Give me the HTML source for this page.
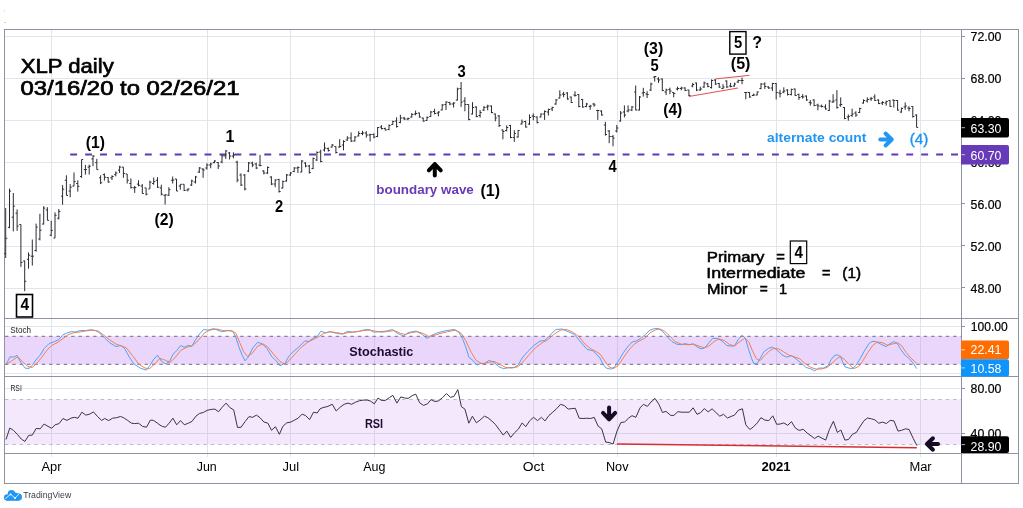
<!DOCTYPE html>
<html><head><meta charset="utf-8"><title>XLP daily</title>
<style>html,body{margin:0;padding:0;background:#fff}svg{display:block;will-change:transform}text{font-family:"Liberation Sans", sans-serif}</style></head><body>
<svg width="1023" height="508" viewBox="0 0 1023 508">
<rect width="1023" height="508" fill="#fff"/>
<rect x="5" y="336.2" width="956" height="28.2" fill="#ead5fb"/>
<rect x="5" y="399.5" width="956" height="45" fill="#f4e8fd"/>
<line x1="5" x2="961.5" y1="36.5" y2="36.5" stroke="#e3e5ec"/>
<line x1="5" x2="961.5" y1="78.5" y2="78.5" stroke="#e3e5ec"/>
<line x1="5" x2="961.5" y1="120.5" y2="120.5" stroke="#e3e5ec"/>
<line x1="5" x2="961.5" y1="162.5" y2="162.5" stroke="#e3e5ec"/>
<line x1="5" x2="961.5" y1="204.5" y2="204.5" stroke="#e3e5ec"/>
<line x1="5" x2="961.5" y1="246.5" y2="246.5" stroke="#e3e5ec"/>
<line x1="5" x2="961.5" y1="288.5" y2="288.5" stroke="#e3e5ec"/>
<line x1="5" x2="961.5" y1="326.5" y2="326.5" stroke="#e3e5ec"/>
<line x1="5" x2="961.5" y1="373.5" y2="373.5" stroke="#e3e5ec"/>
<line x1="5" x2="961.5" y1="388.5" y2="388.5" stroke="#e3e5ec"/>
<line x1="5" x2="961.5" y1="433.5" y2="433.5" stroke="#d9cfe6"/>
<line x1="51.5" x2="51.5" y1="30" y2="457" stroke="#e2e4ec"/>
<line x1="207.5" x2="207.5" y1="30" y2="457" stroke="#e2e4ec"/>
<line x1="290.5" x2="290.5" y1="30" y2="457" stroke="#e2e4ec"/>
<line x1="374.5" x2="374.5" y1="30" y2="457" stroke="#e2e4ec"/>
<line x1="533.5" x2="533.5" y1="30" y2="457" stroke="#e2e4ec"/>
<line x1="617.5" x2="617.5" y1="30" y2="457" stroke="#e2e4ec"/>
<line x1="776.5" x2="776.5" y1="30" y2="457" stroke="#e2e4ec"/>
<line x1="920.5" x2="920.5" y1="30" y2="457" stroke="#e2e4ec"/>
<line x1="51.5" x2="51.5" y1="336.2" y2="364.4" stroke="#d6c4ea"/>
<line x1="51.5" x2="51.5" y1="399.5" y2="444.5" stroke="#ddd1ec"/>
<line x1="207.5" x2="207.5" y1="336.2" y2="364.4" stroke="#d6c4ea"/>
<line x1="207.5" x2="207.5" y1="399.5" y2="444.5" stroke="#ddd1ec"/>
<line x1="290.5" x2="290.5" y1="336.2" y2="364.4" stroke="#d6c4ea"/>
<line x1="290.5" x2="290.5" y1="399.5" y2="444.5" stroke="#ddd1ec"/>
<line x1="374.5" x2="374.5" y1="336.2" y2="364.4" stroke="#d6c4ea"/>
<line x1="374.5" x2="374.5" y1="399.5" y2="444.5" stroke="#ddd1ec"/>
<line x1="533.5" x2="533.5" y1="336.2" y2="364.4" stroke="#d6c4ea"/>
<line x1="533.5" x2="533.5" y1="399.5" y2="444.5" stroke="#ddd1ec"/>
<line x1="617.5" x2="617.5" y1="336.2" y2="364.4" stroke="#d6c4ea"/>
<line x1="617.5" x2="617.5" y1="399.5" y2="444.5" stroke="#ddd1ec"/>
<line x1="776.5" x2="776.5" y1="336.2" y2="364.4" stroke="#d6c4ea"/>
<line x1="776.5" x2="776.5" y1="399.5" y2="444.5" stroke="#ddd1ec"/>
<line x1="920.5" x2="920.5" y1="336.2" y2="364.4" stroke="#d6c4ea"/>
<line x1="920.5" x2="920.5" y1="399.5" y2="444.5" stroke="#ddd1ec"/>
<path d="M5 336.3H961.5M5 364.4H961.5" stroke="#8a8496" stroke-width="1.2" stroke-dasharray="3.4 3.95" fill="none"/>
<path d="M5 399.5H961.5M5 444.5H961.5" stroke="#c2b8ce" stroke-width="1" stroke-dasharray="3.4 3.95" fill="none"/>
<rect x="4" y="10" width="1" height="2" fill="#e4e4e4"/><rect x="4" y="22" width="2" height="1" fill="#cfcfcf"/>
<rect x="4.5" y="29.5" width="1014.0" height="454.0" fill="none" stroke="#8e92a2"/>
<path d="M961.5 29.5V483.5M4.5 453.5H1018.5M4.5 318.5H1018.5M4.5 376.5H1018.5" stroke="#8e92a2" fill="none"/>
<path d="M961.5 36.5h3.5M961.5 78.5h3.5M961.5 120.5h3.5M961.5 162.5h3.5M961.5 203.5h3.5M961.5 245.5h3.5M961.5 287.5h3.5M961.5 326.5h3.5M961.5 388.5h3.5M961.5 433.5h3.5" stroke="#8e92a2" fill="none"/>
<line x1="70.2" x2="961.5" y1="154.6" y2="154.6" stroke="#6236b5" stroke-width="2" stroke-dasharray="6.9 8.03"/>
<path d="M5.7 208.1V258M5.7 253.6h-1.6M5.7 238.3h1.6M9.5 188.6V228.3M9.5 227.4h-1.6M9.5 191.1h1.6M13.3 193V231.4M13.3 217.2h-1.6M13.3 206.2h1.6M17.1 209.4V230.8M17.1 213.2h-1.6M17.1 226.1h1.6M20.9 224.5V266.9M20.9 224.5h-1.6M20.9 262.4h1.6M24.7 260.6V291.2M24.7 261h-1.6M24.7 281.3h1.6M28.5 252.4V268.7M28.5 259.3h-1.6M28.5 255.1h1.6M32.3 239.5V265.6M32.3 256.2h-1.6M32.3 256.2h1.6M36.1 223.6V251.7M36.1 250.5h-1.6M36.1 227h1.6M39.9 213.8V240.4M39.9 239h-1.6M39.9 230.2h1.6M43.7 206.2V224.5M43.7 224h-1.6M43.7 208.1h1.6M47.4 207.2V220.3M47.4 210h-1.6M47.4 220.3h1.6M51.2 220.7V236.2M51.2 235.2h-1.6M51.2 230.4h1.6M55.0 212.3V238M55.0 238h-1.6M55.0 215.3h1.6M58.8 209V219.5M58.8 218.2h-1.6M58.8 211.5h1.6M62.6 185.1V204.7M62.6 196.2h-1.6M62.6 189.2h1.6M66.4 175.3V195.4M66.4 180.3h-1.6M66.4 195.4h1.6M70.2 184.1V197.3M70.2 191h-1.6M70.2 187.2h1.6M74.0 172.5V186.3M74.0 186h-1.6M74.0 181.6h1.6M77.8 180.3V191.6M77.8 183.5h-1.6M77.8 186.3h1.6M81.6 159.5V177.8M81.6 176.5h-1.6M81.6 159.5h1.6M85.4 164.9V174.6M85.4 169.6h-1.6M85.4 169.6h1.6M89.2 164.6V174.6M89.2 167.1h-1.6M89.2 166.2h1.6M93.0 155.1V166.2M93.0 158.9h-1.6M93.0 156.1h1.6M96.8 158.9V169.6M96.8 162.7h-1.6M96.8 169.6h1.6M100.6 175.3V184.1M100.6 177.8h-1.6M100.6 182.8h1.6M104.4 173.4V180.6M104.4 174.6h-1.6M104.4 177.2h1.6M108.2 177.2V182.8M108.2 177.5h-1.6M108.2 182h1.6M112.0 175.3V180M112.0 177.8h-1.6M112.0 176.5h1.6M115.8 171.5V176.3M115.8 174.6h-1.6M115.8 173h1.6M119.6 165.8V173M119.6 170.2h-1.6M119.6 167.1h1.6M123.4 167.1V177.8M123.4 167.1h-1.6M123.4 173.4h1.6M127.2 174V183.5M127.2 174h-1.6M127.2 180.3h1.6M130.9 178.4V188.5M130.9 183.5h-1.6M130.9 187.6h1.6M134.7 186V192.9M134.7 187.9h-1.6M134.7 187.6h1.6M138.5 180.3V186.3M138.5 184.1h-1.6M138.5 185.3h1.6M142.3 184.1V193.5M142.3 186h-1.6M142.3 193.5h1.6M146.1 187.9V195.4M146.1 187.9h-1.6M146.1 194.2h1.6M149.9 180.6V188.9M149.9 188.9h-1.6M149.9 182.2h1.6M153.7 177.5V184.7M153.7 183.5h-1.6M153.7 181.6h1.6M157.5 177.2V187.9M157.5 180.3h-1.6M157.5 187.2h1.6M161.3 184.7V195.4M161.3 187.9h-1.6M161.3 194.2h1.6M165.1 194.2V204.5M165.1 195.4h-1.6M165.1 194.8h1.6M168.9 187.2V196M168.9 195.2h-1.6M168.9 189.7h1.6M172.7 176.5V183.5M172.7 180.3h-1.6M172.7 180h1.6M176.5 179V191M176.5 179h-1.6M176.5 191h1.6M180.3 184.3V189.7M180.3 186h-1.6M180.3 184.3h1.6M184.1 184.3V191M184.1 184.3h-1.6M184.1 190.5h1.6M187.9 188.5V191.4M187.9 190h-1.6M187.9 189h1.6M191.7 179.7V186M191.7 185h-1.6M191.7 181h1.6M195.5 175.9V183.5M195.5 182h-1.6M195.5 177h1.6M199.3 167.1V173M199.3 172h-1.6M199.3 168h1.6M203.1 168.3V177.8M203.1 169h-1.6M203.1 170h1.6M206.9 163.3V169.6M206.9 168h-1.6M206.9 165h1.6M210.7 162.7V168.3M210.7 165h-1.6M210.7 164h1.6M214.4 160.2V163.3M214.4 162.5h-1.6M214.4 161h1.6M218.2 162V169M218.2 162.5h-1.6M218.2 166h1.6M222.0 154.5V163.3M222.0 162h-1.6M222.0 156h1.6M225.8 150.1V158.9M225.8 156h-1.6M225.8 151h1.6M229.6 152V159.5M229.6 153h-1.6M229.6 156h1.6M233.4 152.3V158.3M233.4 156h-1.6M233.4 155h1.6M237.2 160.8V182.2M237.2 162h-1.6M237.2 180h1.6M241.0 173.4V186M241.0 175h-1.6M241.0 185h1.6M244.8 174V190.4M244.8 175h-1.6M244.8 189h1.6M248.6 162V172.1M248.6 171h-1.6M248.6 163h1.6M252.4 161.7V167.1M252.4 163h-1.6M252.4 165h1.6M256.2 162.7V169.2M256.2 164h-1.6M256.2 168h1.6M260.0 154.9V166.4M260.0 165h-1.6M260.0 165.5h1.6M263.8 170.2V174.3M263.8 171h-1.6M263.8 173h1.6M267.6 166.4V174M267.6 173h-1.6M267.6 167.5h1.6M271.4 176.3V185.1M271.4 177h-1.6M271.4 184h1.6M275.2 179.3V187.2M275.2 184h-1.6M275.2 180h1.6M279.0 178.8V192.6M279.0 179.5h-1.6M279.0 191.5h1.6M282.8 180.6V188.5M282.8 188h-1.6M282.8 181.5h1.6M286.6 174V181.6M286.6 181h-1.6M286.6 175h1.6M290.4 172.1V175.9M290.4 175h-1.6M290.4 173h1.6M294.2 167.1V172.1M294.2 171.5h-1.6M294.2 168h1.6M297.9 166.4V173M297.9 168h-1.6M297.9 167.5h1.6M301.7 160.2V172.4M301.7 172h-1.6M301.7 161h1.6M305.5 162.3V167.3M305.5 163h-1.6M305.5 166h1.6M309.3 164.8V173.6M309.3 166h-1.6M309.3 172.5h1.6M313.1 157.6V169.2M313.1 168.5h-1.6M313.1 158.5h1.6M316.9 151.3V161M316.9 160h-1.6M316.9 152.5h1.6M320.7 149.7V162.3M320.7 152h-1.6M320.7 161.5h1.6M324.5 142.5V151.6M324.5 150h-1.6M324.5 148h1.6M328.3 147.5V151.6M328.3 148.5h-1.6M328.3 150.5h1.6M332.1 144V147.5M332.1 147h-1.6M332.1 145h1.6M335.9 146.3V153.5M335.9 146.5h-1.6M335.9 152.5h1.6M339.7 139.2V147.5M339.7 147h-1.6M339.7 146.5h1.6M343.5 140.2V150.3M343.5 145h-1.6M343.5 141.5h1.6M347.3 136.2V140.9M347.3 140h-1.6M347.3 138h1.6M351.1 132.4V142.1M351.1 138h-1.6M351.1 141h1.6M354.9 136.2V141.5M354.9 141h-1.6M354.9 137h1.6M358.7 131.2V136.4M358.7 136h-1.6M358.7 133.5h1.6M362.5 130.8V135.2M362.5 133.5h-1.6M362.5 133h1.6M366.3 131.2V137.7M366.3 133h-1.6M366.3 135h1.6M370.1 133.7V141.5M370.1 135h-1.6M370.1 134.5h1.6M373.9 133.3V138.3M373.9 134.5h-1.6M373.9 137h1.6M377.6 127V137.1M377.6 136.5h-1.6M377.6 127.5h1.6M381.4 125.1V129.5M381.4 127h-1.6M381.4 128.5h1.6M385.2 127.6V130.4M385.2 128.5h-1.6M385.2 130h1.6M389.0 124.5V130.2M389.0 129.5h-1.6M389.0 125.5h1.6M392.8 120.7V124.9M392.8 124.5h-1.6M392.8 121.5h1.6M396.6 117.3V127.6M396.6 121h-1.6M396.6 126.5h1.6M400.4 114.8V123.2M400.4 122.5h-1.6M400.4 118h1.6M404.2 116.9V120.1M404.2 118h-1.6M404.2 119h1.6M408.0 117.6V120.3M408.0 119h-1.6M408.0 118.5h1.6M411.8 113.1V117.6M411.8 117h-1.6M411.8 114.5h1.6M415.6 110.6V115.3M415.6 114h-1.6M415.6 113.5h1.6M419.4 112.7V117.6M419.4 113h-1.6M419.4 117h1.6M423.2 117.6V121.6M423.2 118h-1.6M423.2 121h1.6M427.0 116.3V120.7M427.0 120.5h-1.6M427.0 117.5h1.6M430.8 111V116.9M430.8 116.5h-1.6M430.8 112h1.6M434.6 108.7V114.4M434.6 111.5h-1.6M434.6 113.5h1.6M438.4 111.3V116.3M438.4 113h-1.6M438.4 112h1.6M442.2 104V110.3M442.2 110h-1.6M442.2 105h1.6M446.0 101.2V110M446.0 104.5h-1.6M446.0 102h1.6M449.8 101.8V105.2M449.8 102.5h-1.6M449.8 104h1.6M453.6 102.2V107.5M453.6 104h-1.6M453.6 103h1.6M457.4 87.6V100.6M457.4 100h-1.6M457.4 89h1.6M461.1 82V106.9M461.1 88.5h-1.6M461.1 102h1.6M464.9 97.2V111.3M464.9 101h-1.6M464.9 104.5h1.6M468.7 104.3V120.3M468.7 104.5h-1.6M468.7 119.5h1.6M472.5 102.2V114.4M472.5 114h-1.6M472.5 107.5h1.6M476.3 106.2V117.3M476.3 107h-1.6M476.3 116.5h1.6M480.1 110V117.6M480.1 115.5h-1.6M480.1 112.5h1.6M483.9 106V111M483.9 110h-1.6M483.9 107.5h1.6M487.7 104.7V110.3M487.7 107h-1.6M487.7 106h1.6M491.5 105.6V113.2M491.5 106h-1.6M491.5 112.5h1.6M495.3 113.5V121.3M495.3 114h-1.6M495.3 118h1.6M499.1 115V127M499.1 116h-1.6M499.1 125.5h1.6M502.9 129.5V139.3M502.9 130h-1.6M502.9 131.5h1.6M506.7 125.4V131.4M506.7 130.5h-1.6M506.7 127.5h1.6M510.5 124.9V138.3M510.5 125.5h-1.6M510.5 137.5h1.6M514.3 130.2V141.8M514.3 137.5h-1.6M514.3 133.5h1.6M518.1 129.9V137.7M518.1 137h-1.6M518.1 130.5h1.6M521.9 119.5V124.5M521.9 124h-1.6M521.9 122h1.6M525.7 120.7V127.6M525.7 121.5h-1.6M525.7 127h1.6M529.5 114.4V124.9M529.5 124h-1.6M529.5 117.5h1.6M533.3 113.5V120.3M533.3 116h-1.6M533.3 116.5h1.6M537.1 116.4V123.4M537.1 117h-1.6M537.1 122.5h1.6M540.9 113.4V117.5M540.9 117h-1.6M540.9 114h1.6M544.6 110.4V119.9M544.6 114h-1.6M544.6 111.5h1.6M548.4 108.6V115.5M548.4 112h-1.6M548.4 109.5h1.6M552.2 106.7V111.1M552.2 109h-1.6M552.2 107.5h1.6M556.0 98.9V104.8M556.0 104h-1.6M556.0 100h1.6M559.8 90.3V98.5M559.8 98h-1.6M559.8 95h1.6M563.6 91.8V97.2M563.6 94h-1.6M563.6 94.5h1.6M567.4 92.2V99.7M567.4 93h-1.6M567.4 99h1.6M571.2 96.6V102.9M571.2 97h-1.6M571.2 102.5h1.6M575.0 91.3V96.6M575.0 95h-1.6M575.0 95.5h1.6M578.8 94.1V107.3M578.8 94.5h-1.6M578.8 106.5h1.6M582.6 98.9V107.7M582.6 99.5h-1.6M582.6 107h1.6M586.4 102.9V107.3M586.4 106.5h-1.6M586.4 104h1.6M590.2 104.8V109.8M590.2 106.5h-1.6M590.2 106h1.6M594.0 102.9V106.7M594.0 104h-1.6M594.0 105h1.6M597.8 109.8V119.9M597.8 110.5h-1.6M597.8 110.5h1.6M601.6 110.4V115.5M601.6 111h-1.6M601.6 115h1.6M605.4 121.8V135.6M605.4 125h-1.6M605.4 134.5h1.6M609.2 130V143.2M609.2 131h-1.6M609.2 136.5h1.6M613.0 135V146.3M613.0 136.5h-1.6M613.0 138h1.6M616.8 124.9V132.5M616.8 131h-1.6M616.8 128h1.6M620.6 111.1V121.5M620.6 121h-1.6M620.6 113h1.6M624.4 105.4V117.4M624.4 112h-1.6M624.4 115h1.6M628.1 105.4V112.3M628.1 111h-1.6M628.1 110h1.6M631.9 106V111.1M631.9 110h-1.6M631.9 107h1.6M635.7 85.5V110.4M635.7 92h-1.6M635.7 110h1.6M639.5 96V110.4M639.5 110h-1.6M639.5 97h1.6M643.3 87.8V96.6M643.3 93h-1.6M643.3 92.5h1.6M647.1 91.2V98M647.1 94h-1.6M647.1 94.5h1.6M650.9 82.6V91M650.9 90h-1.6M650.9 84h1.6M654.7 76V81.6M654.7 77h-1.6M654.7 76.5h1.6M658.5 77.2V82.9M658.5 79h-1.6M658.5 80h1.6M662.3 78.5V91.1M662.3 79h-1.6M662.3 90.5h1.6M666.1 88.6V94.9M666.1 92h-1.6M666.1 90h1.6M669.9 87.7V94.2M669.9 89.5h-1.6M669.9 91h1.6M673.7 92.3V97.4M673.7 92.5h-1.6M673.7 93.5h1.6M677.5 86.7V90.4M677.5 89h-1.6M677.5 88.5h1.6M681.3 86.7V90.2M681.3 88.5h-1.6M681.3 88h1.6M685.1 87.3V91.1M685.1 88h-1.6M685.1 90.5h1.6M688.9 89.8V96.1M688.9 90h-1.6M688.9 95.5h1.6M692.7 82.9V87.3M692.7 86h-1.6M692.7 84.5h1.6M696.5 82.6V91.1M696.5 83h-1.6M696.5 90h1.6M700.3 86.7V90.7M700.3 90h-1.6M700.3 89h1.6M704.1 81.6V87.9M704.1 87h-1.6M704.1 83h1.6M707.8 82.9V87.3M707.8 84h-1.6M707.8 86.5h1.6M711.6 79.4V88.6M711.6 87.5h-1.6M711.6 80.5h1.6M715.4 79.1V84.8M715.4 80h-1.6M715.4 84h1.6M719.2 82.9V87.9M719.2 83.5h-1.6M719.2 87h1.6M723.0 84.2V89.2M723.0 88.5h-1.6M723.0 87h1.6M726.8 80.4V87.9M726.8 81h-1.6M726.8 87h1.6M730.6 82.9V87.3M730.6 86h-1.6M730.6 86.5h1.6M734.4 82.6V86.7M734.4 86h-1.6M734.4 84h1.6M738.2 79.7V82.9M738.2 82h-1.6M738.2 80.5h1.6M742.0 77.6V84.2M742.0 80.5h-1.6M742.0 80.5h1.6M745.8 92V99.3M745.8 92.5h-1.6M745.8 92.5h1.6M749.6 92V97.8M749.6 92.5h-1.6M749.6 97h1.6M753.4 93.6V96.1M753.4 95.5h-1.6M753.4 95h1.6M757.2 91.5V95.4M757.2 95h-1.6M757.2 92h1.6M761.0 83V89.2M761.0 88.5h-1.6M761.0 84h1.6M764.8 82.3V88.9M764.8 84h-1.6M764.8 86.5h1.6M768.6 86.4V88.8M768.6 87h-1.6M768.6 88h1.6M772.4 82.9V91.1M772.4 88h-1.6M772.4 83.5h1.6M776.2 83.1V99.5M776.2 83.5h-1.6M776.2 92.5h1.6M780.0 89.8V97.4M780.0 93h-1.6M780.0 93.5h1.6M783.8 87.3V93.2M783.8 92h-1.6M783.8 91h1.6M787.6 89.2V95.5M787.6 90h-1.6M787.6 94.5h1.6M791.3 88.6V95.5M791.3 94.5h-1.6M791.3 89.5h1.6M795.1 88.6V96.1M795.1 89h-1.6M795.1 95.5h1.6M798.9 93.6V99.9M798.9 94.5h-1.6M798.9 97.5h1.6M802.7 94.2V98.6M802.7 96.5h-1.6M802.7 97h1.6M806.5 95.5V100.8M806.5 96h-1.6M806.5 100h1.6M810.3 99.9V105.6M810.3 102.5h-1.6M810.3 103h1.6M814.1 99.3V106.2M814.1 100h-1.6M814.1 105.5h1.6M817.9 103.7V110.3M817.9 105h-1.6M817.9 106h1.6M821.7 104.6V107.5M821.7 106h-1.6M821.7 106.5h1.6M825.5 104.3V109.6M825.5 107h-1.6M825.5 109h1.6M829.3 99.9V110.9M829.3 110.5h-1.6M829.3 101h1.6M833.1 94.2V103M833.1 102h-1.6M833.1 101h1.6M836.9 90.2V108.7M836.9 100h-1.6M836.9 107.5h1.6M840.7 97.4V106.8M840.7 105h-1.6M840.7 104.5h1.6M844.5 107.1V119.2M844.5 107.5h-1.6M844.5 118.5h1.6M848.3 114.4V120.7M848.3 117h-1.6M848.3 116.5h1.6M852.1 108.7V116.9M852.1 115.5h-1.6M852.1 114h1.6M855.9 111.2V116.9M855.9 113h-1.6M855.9 115h1.6M859.7 107.8V113.1M859.7 112.5h-1.6M859.7 108.5h1.6M863.5 99.3V103.6M863.5 103h-1.6M863.5 100.5h1.6M867.3 97.4V102.5M867.3 101h-1.6M867.3 99.5h1.6M871.1 96.9V100.9M871.1 99h-1.6M871.1 98.5h1.6M874.8 94.3V101M874.8 97h-1.6M874.8 100.5h1.6M878.6 99.3V104.2M878.6 100h-1.6M878.6 103.5h1.6M882.4 101.2V105M882.4 103h-1.6M882.4 102.5h1.6M886.2 100.6V105.6M886.2 103h-1.6M886.2 101.5h1.6M890.0 99.9V106.9M890.0 100.5h-1.6M890.0 106.5h1.6M893.8 99.7V107.5M893.8 100h-1.6M893.8 100.5h1.6M897.6 100.2V110.6M897.6 100.5h-1.6M897.6 110h1.6M901.4 107.5V112.8M901.4 112h-1.6M901.4 108.5h1.6M905.2 102.4V109.8M905.2 107h-1.6M905.2 106h1.6M909.0 106.2V111.3M909.0 108h-1.6M909.0 108.5h1.6M912.8 106V117.6M912.8 106.5h-1.6M912.8 116.5h1.6M916.6 114.4V127.4M916.6 115h-1.6M916.6 127.4h1.6" stroke="#2b2b33" stroke-width="1" fill="none"/>
<path d="M688.9 96.5L738 88M715.6 78.9L749.3 75.4" stroke="#e0504e" stroke-width="1" fill="none"/>
<path d="M617 444L916.8 447.7" stroke="#d42f2f" stroke-width="1.5" fill="none"/>
<path d="M6.3 364.1L10.1 356.8L13.9 357.1L17 355.3L20.8 362.5L25.2 368.2L29 368.4L32.1 365.6L35.9 360L40.3 354.9L44.1 348.6L49.1 343.6L54.2 341.7L58.6 339.8L63 334.8L66.8 333.1L71.2 331.6L75.6 332L80.6 330.4L85.6 330.6L90.7 329.7L95.7 330.6L99.5 332.9L104.5 337.9L109.6 342.7L115.9 346.5L120.9 345.5L124.7 348.6L129.4 357.2L134.1 364.2L140.3 368.1L146.3 370.2L149.7 365.8L153.6 359.5L157.5 355.2L161.4 361.1L165.4 363.9L169.3 361.9L173.2 354.1L177.1 350.2L180.7 345.5L184.1 347.3L188 345.5L191.9 346.2L195.9 339.2L199.8 333.7L203.7 329.4L207.6 330.1L213.8 328.7L221.7 331.7L227.9 330.6L232.6 331.1L235.7 336.9L238.9 347L242 354.8L245.1 360.8L248.2 357.2L252.9 347.8L257.6 342.3L262.3 343.9L267 348.6L271.7 356.4L276.4 361.1L280 365.8L284.7 363.4L289.4 355.6L294.1 350.9L298.8 347L305 340.8L308.9 341.5L312.8 338.4L317.5 336.1L321 331.1L325.4 332.9L330 331.7L336.3 333.3L342.6 334.2L347.3 331.4L353.5 332.2L359.8 331.1L364.5 329.8L369.1 329.5L373.8 332.2L380.1 331.7L386.3 331.1L392.6 329.5L397.3 333.3L403.6 336.1L408.2 332.6L416.1 331.1L422.3 334.5L427 338.4L431.7 335.3L436.4 333.3L440 332.2L446.3 330.6L454.1 329.5L458.8 332.2L462.7 339.2L465.8 347L468.9 357.2L472.8 360.3L476.8 365L480.7 363.4L484.6 363.4L489.3 360.3L494 362.4L498.6 366.6L503.3 368.6L508.8 367.7L514.3 367.4L518.2 365L522.1 358L527.6 351.7L533.8 345.5L540.1 341.1L544.8 340.5L549.5 335.8L555.7 329.5L562 329L568.2 331.7L574.5 334.5L580.8 342.3L587 349.4L593.3 350.9L600 358L603.1 364.2L606.3 368.1L610.9 369.2L614.9 366.6L618.8 360.3L623.5 352.5L628.2 346.2L632.1 342L636 341.1L640.7 338.4L645.4 334.5L650 330.1L654.7 328.6L658.6 328.6L662.6 331.4L667.3 336.9L671.9 341.5L676.6 344.2L681.3 344.7L685.2 343.6L689.1 344.7L693.1 343.9L697 346.7L700.9 348.9L704.8 347.8L708.7 343.1L712.6 338.4L717.3 338.4L722 340.8L726.7 345.5L731.4 346.2L734.5 345.8L738.4 339.2L742.3 335.3L745.4 338.4L748.6 349.4L751.7 358.8L754 363.9L757.2 363.4L760 358.8L763.9 351.7L768.6 348.3L772.5 347L777.2 350.2L781.9 354.8L786.6 357.2L791.3 355.6L796 358.8L801.4 363.4L806.1 367.4L810.8 368.9L814.7 370.8L818.6 368.1L823.3 368.1L828 365.8L831.2 359.5L834.3 355.6L837.4 354.8L840.5 356.4L842.9 362.7L845.2 367L849.1 368.1L852.3 368.9L856.2 365L860.1 358.8L864.8 350.2L868.7 343.9L871.8 341.5L875.7 341.5L880.4 343.9L885.9 346.7L889.8 343.9L893.7 341.5L897.6 343.9L900.8 349.4L904.7 354.8L909.4 358.8L913.3 363.4L916.7 368.6" stroke="#45a0f5" stroke-width="0.95" fill="none" stroke-linejoin="round"/>
<path d="M6.3 364.1L11.3 361.2L17.6 356.8L22.7 361.9L27.7 366.3L32.1 367.5L36.5 363.7L41.6 357.5L46.6 350.5L51.6 345.5L57.9 342.3L63 338.6L68 334.8L73 332.9L79.3 332L85.6 331L91.9 330.1L98.2 331L103.3 334.8L109.6 339.8L115.9 344L120 345.5L126.3 347.8L132.5 355.6L138.8 364.2L145 368.1L149.7 368.6L154.4 364.2L159.9 358.3L165.4 360.3L170 362.4L174.7 358L181 350.2L187.3 347L191.9 346.2L198.2 340.5L204.5 332.9L210.7 329.8L217 329L223.2 330.6L231 330.6L235.7 332.9L239.6 342.3L243.6 351.7L247.5 356.4L252.2 353.3L257.6 346.2L263.1 343.9L267.8 347L274.1 354.8L280 361.5L284.7 364.2L289.4 360.3L295.6 353.3L301.9 346.7L308.2 342L314.4 338.9L319.1 336.4L323.8 333.3L330 331.7L336.3 332.6L342.6 333.7L348.8 332.6L356.6 331.7L362.9 330.6L369.1 330.1L375.4 331.1L381.7 332.2L387.9 331.4L394.2 330.6L400.4 333.3L405.1 334.5L411.4 332.6L417.6 331.7L423.9 333.7L428.6 336.4L434.8 335.3L440 333.5L447.8 331.7L455.6 330.1L461.1 333.3L465.8 340.8L471.3 352.5L476 360.3L482.2 363.9L488.5 362.4L494 361.4L499.4 364.2L505.7 367.4L511.9 368.1L518.2 366.6L522.9 361.9L528.4 355.6L535.4 347.8L541.7 343.1L547.9 339.5L554.2 334.2L560.4 330.1L566.7 329.5L572.9 332.2L579.2 336.9L585.4 344.7L591.7 349.4L596.4 351.7L600 354.1L603.9 359.5L608.6 366.6L613.3 368.6L618 365.8L622.7 358.8L628.2 350.9L633.6 344.7L639.1 341.1L644.6 338.4L650 332.9L655.5 329.8L660.2 329L664.9 331.4L669.6 335.8L675.1 341.5L681.3 344.2L687.6 344.7L693.8 344.2L699.3 346.2L704 347.8L708.7 346.2L714.2 341.5L718.9 338.9L724.3 340.5L729.8 344.7L734.5 345.8L740 341.5L744.7 338.4L748.6 341.5L752.5 350.9L756.4 358.8L760 360.7L764.7 355.6L769.4 350.9L774.1 348.3L778.8 348.9L783.5 351.7L788.9 355.2L794.4 356.7L799.9 358.8L805.4 363.9L810.8 367.4L816.3 369.2L821.8 368.9L827.3 367.4L831.9 363.4L836.6 358.8L840.5 356.4L844.5 359.5L849.1 364.5L853.8 368.6L858.5 366.6L863.2 360.3L867.9 352.5L872.6 345.5L877.3 342L882 342.6L887.5 345.1L892.9 343.9L897.6 342.6L901.5 345.5L906.2 352.5L910.9 358L916.7 363.4" stroke="#f27a48" stroke-width="0.95" fill="none" stroke-linejoin="round"/>
<path d="M6 439.5L9.8 428L13.4 430.3L17.3 434.3L21.3 439L24.9 441.4L28.7 435.4L32.3 435.1L36.2 428.4L40.2 428.8L44.1 424L48 426.4L51.7 428.3L55.1 424.8L59.1 423.6L63 418.5L66.9 420.4L70.9 418.2L74.3 417.3L78 418.2L81.9 412.2L85.8 415.1L89.8 414.1L93.4 411.9L97.6 416.6L101.6 420.4L104.7 418.5L108.7 420.6L112.6 418.2L116.5 417.7L120.5 416.5L123.6 417.7L127.6 420.4L131.5 423.2L134.6 423.6L138.6 423.2L142.5 426.4L146.5 427.2L150.4 420.1L153.5 420.4L157.5 423.2L160 425.1L162.4 426.4L165.5 427.2L169.1 423.2L172.9 418.2L176.7 424.8L180.5 420.6L184.4 424.8L188.3 423.2L192 421.4L195.9 416.2L199.4 413.5L203.3 412.5L207.2 410.3L211.2 409.4L214.8 409.1L218.6 411.7L222.2 407.2L226.1 403.1L229.8 407.5L233.7 409.9L237.5 427.5L241.1 427.2L245 421.7L249 416.6L252.6 417.3L256.5 415.1L260 417.7L263.9 422L267.9 423.2L271.5 430.3L275.4 426.7L279.4 434.3L282.8 426.4L286.8 422.8L290.7 422.1L294.6 420.1L298.3 418L302.2 414.1L305.7 415.7L309.6 419.6L313.5 412.2L317.2 413L320 408.9L323.1 407.5L327.1 406.7L332.3 404.3L336.2 411L340.2 407.2L344.1 404.3L348 403.1L351.5 404.3L355.4 402.3L359.4 400.7L363.3 400.1L367.2 400.1L370.7 401.2L374.3 403.9L378 398L381.4 400.4L385.4 400.4L389.3 397.6L392.9 395.4L396.9 403.1L400.8 396.9L404.7 398L408.2 398.4L412.1 395.7L415.7 394.1L419.7 402.8L423.5 405.4L427.4 403.9L431 399.6L435 401.5L438.6 400.9L442.5 397.6L446.5 393.6L450.4 397.3L453.9 396.5L457.8 389.7L461.4 406.7L464.9 409.1L468.8 423.2L472.4 416.2L476.4 422.8L480 420.1L484.4 416.2L487.9 417.7L491.8 420.9L495.7 424.8L499.7 430.3L503.3 435.1L506.8 431.1L510.7 437.4L514.6 432.7L518.3 429.2L522.2 422.9L525.7 426.7L529.6 420.9L533.5 417.3L537.5 420.6L541.4 417.3L545 420.9L549 415.4L552.8 412.2L556.7 408.6L560.6 404.3L564.3 405.6L568.2 409.1L571.8 408.6L575.3 408.3L579.2 418.2L583.1 418.5L586.8 418.2L590.7 418.5L594.2 417.3L598.1 426.1L601.7 428.8L605.7 442.1L609.1 442.5L613.1 444L617 431.1L620.9 422.5L624.6 422L628.5 418.2L632 415.7L635.9 417.3L640 407.9L643.5 404.3L647.4 406.4L651 402L655 398.4L658.9 404.3L662.5 412.5L666 411.4L670.7 415.4L673.9 415.4L677.8 411.7L681.7 412.2L685.7 412.2L689.3 412.2L693.1 407.8L697 414.3L700.6 412.7L704.3 408.6L708.2 411.9L712.1 408.8L716.1 412.7L719.8 416.2L723.5 414.3L727.4 418L731 416.5L734.5 415.1L738.4 410.2L742.4 408.8L745.8 424.8L749.8 429.5L753.4 426.9L757.3 422.9L760.9 417.7L764.9 420.1L768.8 420.6L772.8 415.8L776.7 424.3L780.2 424L783.8 422.9L787.7 425.3L791.5 421.7L795.1 427.7L798.3 430L800 430.3L803.1 429.2L807.1 433L811 435.8L814.6 438.5L818.1 436.2L822 438.2L825.7 440.1L829.4 429.5L833.4 421.2L837.3 432.4L840.9 430L844.9 440.1L848.5 439.5L852.4 434.3L856.4 432.4L859.8 426.9L863.8 420.9L867.4 418L871.3 418.8L874.8 419.8L878.7 423.2L882.7 422.1L886.3 423.6L890.2 420.4L894 420.9L898 431.1L901.6 430.3L905.5 428.8L909.1 429.5L913.1 438.2L916.9 445.6" stroke="#3a3542" stroke-width="1" fill="none" stroke-linejoin="round"/>
<text x="20.7" y="73" font-size="21" font-weight="normal" fill="#000" text-anchor="start" textLength="93" lengthAdjust="spacingAndGlyphs" stroke="#000" stroke-width="0.7">XLP daily</text>
<text x="20.5" y="94.5" font-size="20" font-weight="normal" fill="#000" text-anchor="start" textLength="219" lengthAdjust="spacingAndGlyphs" stroke="#000" stroke-width="0.7">03/16/20 to 02/26/21</text>
<text x="85.8" y="147.5" font-size="16" font-weight="bold" fill="#000" text-anchor="start" textLength="19.2" lengthAdjust="spacingAndGlyphs">(1)</text>
<text x="225.5" y="142" font-size="16" font-weight="bold" fill="#000" text-anchor="start">1</text>
<text x="154.5" y="224.5" font-size="16" font-weight="bold" fill="#000" text-anchor="start" textLength="19.2" lengthAdjust="spacingAndGlyphs">(2)</text>
<text x="275" y="212" font-size="16" font-weight="bold" fill="#000" text-anchor="start" textLength="8.2" lengthAdjust="spacingAndGlyphs">2</text>
<text x="457.5" y="76.5" font-size="16" font-weight="bold" fill="#000" text-anchor="start" textLength="8.2" lengthAdjust="spacingAndGlyphs">3</text>
<text x="643.8" y="54.3" font-size="16" font-weight="bold" fill="#000" text-anchor="start" textLength="19.4" lengthAdjust="spacingAndGlyphs">(3)</text>
<text x="650.6" y="71.3" font-size="16" font-weight="bold" fill="#000" text-anchor="start" textLength="8.2" lengthAdjust="spacingAndGlyphs">5</text>
<text x="663.3" y="114.8" font-size="16" font-weight="bold" fill="#000" text-anchor="start" textLength="19" lengthAdjust="spacingAndGlyphs">(4)</text>
<text x="730.8" y="68.8" font-size="16" font-weight="bold" fill="#000" text-anchor="start" textLength="19.6" lengthAdjust="spacingAndGlyphs">(5)</text>
<text x="734.1" y="48" font-size="16" font-weight="bold" fill="#000" text-anchor="start" textLength="8.2" lengthAdjust="spacingAndGlyphs">5</text>
<text x="752.2" y="47.6" font-size="16" font-weight="bold" fill="#000" text-anchor="start">?</text>
<text x="608.6" y="171.5" font-size="16" font-weight="bold" fill="#000" text-anchor="start" textLength="8.2" lengthAdjust="spacingAndGlyphs">4</text>
<text x="20.4" y="310.4" font-size="16" font-weight="bold" fill="#000" text-anchor="start" textLength="8.6" lengthAdjust="spacingAndGlyphs">4</text>
<text x="480.5" y="195.5" font-size="16" font-weight="bold" fill="#000" text-anchor="start" textLength="19.5" lengthAdjust="spacingAndGlyphs">(1)</text>
<rect x="16.5" y="294.5" width="16" height="22.5" fill="#fff" fill-opacity="0" stroke="#000" stroke-width="1.6"/>
<rect x="729.8" y="31.6" width="16.2" height="22.5" fill="none" stroke="#000" stroke-width="1.4"/>
<rect x="790.3" y="241" width="16.4" height="22.6" fill="none" stroke="#000" stroke-width="1.2"/>
<text x="794.5" y="257.8" font-size="16" font-weight="bold" fill="#000" text-anchor="start" textLength="8.4" lengthAdjust="spacingAndGlyphs">4</text>
<text x="376.3" y="193.8" font-size="13.5" font-weight="bold" fill="#673ab7" text-anchor="start" textLength="97.5" lengthAdjust="spacingAndGlyphs">boundary wave</text>
<text x="767" y="142.2" font-size="13.5" font-weight="bold" fill="#2196f3" text-anchor="start" textLength="99.4" lengthAdjust="spacingAndGlyphs">alternate count</text>
<text x="909.7" y="143.9" font-size="14.8" font-weight="normal" fill="#2196f3" text-anchor="start" textLength="18.5" lengthAdjust="spacingAndGlyphs" stroke="#2196f3" stroke-width="0.4">(4)</text>
<text x="706.8" y="261.8" font-size="14.5" font-weight="normal" fill="#000" text-anchor="start" textLength="57.7" lengthAdjust="spacingAndGlyphs" stroke="#000" stroke-width="0.5">Primary</text>
<text x="776.2" y="261.8" font-size="14.5" font-weight="normal" fill="#000" text-anchor="start" textLength="8.6" lengthAdjust="spacingAndGlyphs" stroke="#000" stroke-width="0.5">=</text>
<text x="706.3" y="278.2" font-size="14.5" font-weight="normal" fill="#000" text-anchor="start" textLength="99" lengthAdjust="spacingAndGlyphs" stroke="#000" stroke-width="0.5">Intermediate</text>
<text x="822" y="278.2" font-size="14.5" font-weight="normal" fill="#000" text-anchor="start" textLength="8.4" lengthAdjust="spacingAndGlyphs" stroke="#000" stroke-width="0.5">=</text>
<text x="842.3" y="278.2" font-size="14.5" font-weight="normal" fill="#000" text-anchor="start" textLength="18.7" lengthAdjust="spacingAndGlyphs" stroke="#000" stroke-width="0.5">(1)</text>
<text x="707" y="294.3" font-size="14.5" font-weight="normal" fill="#000" text-anchor="start" textLength="40.5" lengthAdjust="spacingAndGlyphs" stroke="#000" stroke-width="0.5">Minor</text>
<text x="759.8" y="294.3" font-size="14.5" font-weight="normal" fill="#000" text-anchor="start" textLength="8" lengthAdjust="spacingAndGlyphs" stroke="#000" stroke-width="0.5">=</text>
<text x="779" y="294.3" font-size="14.5" font-weight="normal" fill="#000" text-anchor="start" stroke="#000" stroke-width="0.5">1</text>
<text x="349.3" y="356.4" font-size="13.5" font-weight="bold" fill="#1e0c2e" text-anchor="start" textLength="64" lengthAdjust="spacingAndGlyphs">Stochastic</text>
<text x="364.9" y="428.4" font-size="13" font-weight="bold" fill="#1e0c2e" text-anchor="start" textLength="18.2" lengthAdjust="spacingAndGlyphs">RSI</text>
<text x="10.3" y="333" font-size="9.5" font-weight="normal" fill="#1c1c1c" text-anchor="start" textLength="20.6" lengthAdjust="spacingAndGlyphs">Stoch</text>
<text x="10.4" y="391.4" font-size="9" font-weight="normal" fill="#1c1c1c" text-anchor="start" textLength="11.4" lengthAdjust="spacingAndGlyphs">RSI</text>
<g transform="translate(434.8 169.85) rotate(0)" stroke="#000" stroke-width="4" fill="none" stroke-linecap="round" stroke-linejoin="round"><path d="M0 5.75V-5.75M-5.95 0.45L0 -5.75L5.95 0.45"/></g>
<g transform="translate(609.1 413.4) rotate(180)" stroke="#160a24" stroke-width="4" fill="none" stroke-linecap="round" stroke-linejoin="round"><path d="M0 5.87V-5.87M-6.07 0.46L0 -5.87L6.07 0.46"/></g>
<g transform="translate(932.5 444) rotate(-90)" stroke="#160a24" stroke-width="4" fill="none" stroke-linecap="round" stroke-linejoin="round"><path d="M0 5.52V-5.52M-5.71 0.43L0 -5.52L5.71 0.43"/></g>
<g transform="translate(886 139.5) rotate(90)" stroke="#2196f3" stroke-width="4" fill="none" stroke-linecap="round" stroke-linejoin="round"><path d="M0 5.75V-5.75M-5.95 0.45L0 -5.75L5.95 0.45"/></g>
<text x="970.6" y="40.9" font-size="12.3" font-weight="normal" fill="#000" text-anchor="start" textLength="30.8" lengthAdjust="spacingAndGlyphs" stroke="#000" stroke-width="0.2">72.00</text>
<text x="970.6" y="82.9" font-size="12.3" font-weight="normal" fill="#000" text-anchor="start" textLength="30.8" lengthAdjust="spacingAndGlyphs" stroke="#000" stroke-width="0.2">68.00</text>
<text x="970.6" y="124.9" font-size="12.3" font-weight="normal" fill="#000" text-anchor="start" textLength="30.8" lengthAdjust="spacingAndGlyphs" stroke="#000" stroke-width="0.2">64.00</text>
<text x="970.6" y="166.9" font-size="12.3" font-weight="normal" fill="#000" text-anchor="start" textLength="30.8" lengthAdjust="spacingAndGlyphs" stroke="#000" stroke-width="0.2">60.00</text>
<text x="970.6" y="208.9" font-size="12.3" font-weight="normal" fill="#000" text-anchor="start" textLength="30.8" lengthAdjust="spacingAndGlyphs" stroke="#000" stroke-width="0.2">56.00</text>
<text x="970.6" y="250.9" font-size="12.3" font-weight="normal" fill="#000" text-anchor="start" textLength="30.8" lengthAdjust="spacingAndGlyphs" stroke="#000" stroke-width="0.2">52.00</text>
<text x="970.6" y="292.9" font-size="12.3" font-weight="normal" fill="#000" text-anchor="start" textLength="30.8" lengthAdjust="spacingAndGlyphs" stroke="#000" stroke-width="0.2">48.00</text>
<text x="970.8" y="331.2" font-size="12.3" font-weight="normal" fill="#000" text-anchor="start" textLength="37" lengthAdjust="spacingAndGlyphs" stroke="#000" stroke-width="0.2">100.00</text>
<text x="970.6" y="393.2" font-size="12.3" font-weight="normal" fill="#000" text-anchor="start" textLength="30.8" lengthAdjust="spacingAndGlyphs" stroke="#000" stroke-width="0.2">80.00</text>
<text x="970.6" y="438.2" font-size="12.3" font-weight="normal" fill="#000" text-anchor="start" textLength="30.8" lengthAdjust="spacingAndGlyphs" stroke="#000" stroke-width="0.2">40.00</text>
<path d="M961.0 118H1007a2 2 0 0 1 2 2V135.4a2 2 0 0 1 -2 2H961.0z" fill="#000"/>
<line x1="961.5" x2="965.0" y1="127.7" y2="127.7" stroke="#fff" stroke-opacity="0.7"/>
<text x="970.6" y="132.6" font-size="12.3" font-weight="normal" fill="#fff" text-anchor="start" textLength="30.8" lengthAdjust="spacingAndGlyphs">63.30</text>
<path d="M961.0 145H1007a2 2 0 0 1 2 2V162.4a2 2 0 0 1 -2 2H961.0z" fill="#673ab7"/>
<line x1="961.5" x2="965.0" y1="154.7" y2="154.7" stroke="#fff" stroke-opacity="0.7"/>
<text x="970.6" y="159.8" font-size="12.3" font-weight="normal" fill="#fff" text-anchor="start" textLength="30.8" lengthAdjust="spacingAndGlyphs">60.70</text>
<path d="M961.0 340.4H1007a2 2 0 0 1 2 2V357.2a2 2 0 0 1 -2 2H961.0z" fill="#ff6d00"/>
<line x1="961.5" x2="965.0" y1="349.79999999999995" y2="349.79999999999995" stroke="#fff" stroke-opacity="0.7"/>
<text x="970.6" y="354.2" font-size="12.3" font-weight="normal" fill="#fff" text-anchor="start" textLength="30.8" lengthAdjust="spacingAndGlyphs">22.41</text>
<path d="M961.0 359.2H1007a2 2 0 0 1 2 2V374.6a2 2 0 0 1 -2 2H961.0z" fill="#0e94fa"/>
<line x1="961.5" x2="965.0" y1="367.9" y2="367.9" stroke="#fff" stroke-opacity="0.7"/>
<text x="970.6" y="372.8" font-size="12.3" font-weight="normal" fill="#fff" text-anchor="start" textLength="30.8" lengthAdjust="spacingAndGlyphs">10.58</text>
<path d="M961.0 436.3H1007a2 2 0 0 1 2 2V451a2 2 0 0 1 -2 2H961.0z" fill="#000"/>
<line x1="961.5" x2="965.0" y1="444.65" y2="444.65" stroke="#fff" stroke-opacity="0.7"/>
<text x="970.6" y="450.6" font-size="12.3" font-weight="normal" fill="#fff" text-anchor="start" textLength="30.8" lengthAdjust="spacingAndGlyphs">28.90</text>
<text x="41.5" y="471.3" font-size="12.3" font-weight="normal" fill="#000" text-anchor="start" textLength="20" lengthAdjust="spacingAndGlyphs">Apr</text>
<text x="196.7" y="471.3" font-size="12.3" font-weight="normal" fill="#000" text-anchor="start" textLength="20" lengthAdjust="spacingAndGlyphs">Jun</text>
<text x="282.5" y="471.3" font-size="12.3" font-weight="normal" fill="#000" text-anchor="start" textLength="16.6" lengthAdjust="spacingAndGlyphs">Jul</text>
<text x="363.3" y="471.3" font-size="12.3" font-weight="normal" fill="#000" text-anchor="start" textLength="22.2" lengthAdjust="spacingAndGlyphs">Aug</text>
<text x="522.8" y="471.3" font-size="12.3" font-weight="normal" fill="#000" text-anchor="start" textLength="21.6" lengthAdjust="spacingAndGlyphs">Oct</text>
<text x="605.9" y="471.3" font-size="12.3" font-weight="normal" fill="#000" text-anchor="start" textLength="22.6" lengthAdjust="spacingAndGlyphs">Nov</text>
<text x="909.4" y="471.3" font-size="12.3" font-weight="normal" fill="#000" text-anchor="start" textLength="22.3" lengthAdjust="spacingAndGlyphs">Mar</text>
<text x="761.4" y="471.3" font-size="12.3" font-weight="bold" fill="#000" text-anchor="start" textLength="29.3" lengthAdjust="spacingAndGlyphs">2021</text>
<g fill="#2196f3"><circle cx="7.3" cy="497.5" r="3.3"/><circle cx="11.5" cy="493.6" r="3.7"/><circle cx="18.2" cy="497" r="3.8"/><circle cx="15.2" cy="495" r="2.4"/><rect x="7.3" y="496" width="10.9" height="4.8"/></g>
<path d="M5.4 498.6L10.6 494.3L15 498L19.3 493.8" stroke="#fff" stroke-width="0.9" fill="none" stroke-opacity="0.9"/>
<circle cx="10.6" cy="494.3" r="0.9" fill="#fff"/><circle cx="15" cy="498.1" r="1" fill="#fff"/>
<text x="23.2" y="497.9" font-size="9.3" font-weight="normal" fill="#3a3e48" text-anchor="start" textLength="48" lengthAdjust="spacingAndGlyphs">TradingView</text>
</svg></body></html>
